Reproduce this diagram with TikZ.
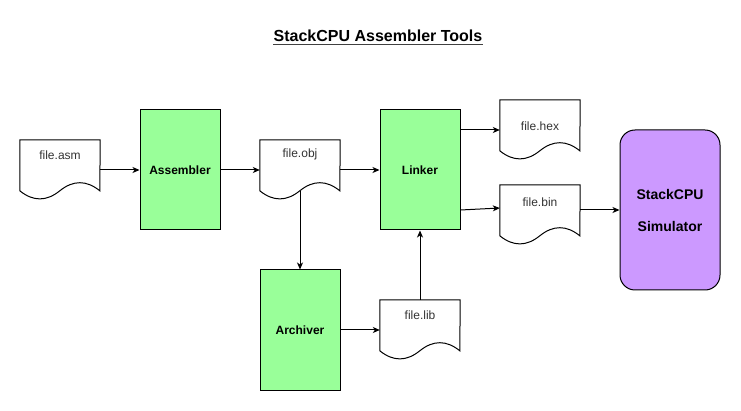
\documentclass[tikz,border=0pt]{standalone}
\usepackage{fontspec}
\setmainfont{Liberation Sans}
\usetikzlibrary{calc,arrows.meta}
\definecolor{toolgreen}{HTML}{99FF99}
\definecolor{simpurple}{HTML}{CC99FF}
\tikzset{
	tool/.style={draw=black, fill=toolgreen, line width=1pt, minimum width=80pt, minimum height=120pt, inner sep=0pt, font=\fontsize{12}{14.4}\selectfont\bfseries},
	simbox/.style={draw=black, fill=simpurple, line width=1pt, rounded corners=15pt, minimum width=100pt, minimum height=160pt, inner sep=0pt, align=center, font=\fontsize{14}{16.8}\selectfont\bfseries},
	filebox/.style={draw=none, minimum width=80pt, minimum height=60pt, inner sep=0pt},
	filetext/.style={inner sep=0pt, text=black!80, font=\fontsize{12}{14.4}\selectfont},
	fileline/.style={draw=black, fill=white, line width=1pt},
	flow/.style={draw=black, line width=1pt, -{Stealth[length=7pt,width=6pt,inset=2pt]}},
	titletext/.style={inner sep=0pt, anchor=base, font=\fontsize{16}{19.2}\selectfont\bfseries},
}
\def\filedoc(#1)(#2)(#3)#4{%
	\node[filebox] (#2) at (#1) {};
	\draw[fileline] (#2.north west) -- (#2.north east) -- ($(#2.north west)+(80,51)$)
		.. controls ($(#2.north west)+(66.67,40.2)$) and ($(#2.north west)+(53.33,40.2)$) .. ($(#2.north west)+(40,51)$)
		.. controls ($(#2.north west)+(26.67,61.8)$) and ($(#2.north west)+(13.33,61.8)$) .. ($(#2.north west)+(0,51)$) -- cycle;
	\node[filetext] (#2-name) at ($(#2.north)+(0,#3)$) {#4};
}

\begin{document}
\begin{tikzpicture}[x=1pt, y=-1pt]
	%%%%% START %%%%%
	
	\path[fill=white, use as bounding box] (0, 0) rectangle (741, 411);
	
	\node[titletext] (title) at (378, 42) {StackCPU Assembler Tools};
	\draw[line width=1.5pt, color=black!75] ($(title.base west)+(0, 2.3)$) -- ($(title.base east)+(0, 2.3)$);
	
	\filedoc(60, 170)(asm)(15){file.asm}
	\node[tool] (assembler) at (180, 170) {Assembler};
	\filedoc(300, 170)(obj)(15){file.obj}
	\node[tool] (linker) at (420, 170) {Linker};
	
	\node[tool] (archiver) at (300, 330) {Archiver};
	\filedoc(420, 330)(lib)(15){file.lib}
	
	\filedoc(540, 130)(hex)(26){file.hex}
	\filedoc(540, 215)(bin)(17){file.bin}
	\node[simbox] (sim) at (670, 210) {StackCPU\\[15.2pt]Simulator};
	
	\draw[flow] (asm) -- (assembler);
	\draw[flow] (assembler) -- (obj);
	\draw[flow] (obj) -- (linker);
	\draw[flow] ($(obj.south)+(0, -9)$) -- (archiver);
	\draw[flow] (archiver) -- (lib);
	\draw[flow] (lib) -- (linker);
	
	\draw[flow] (linker.east |- hex.west) -- (hex.west);
	\draw[flow] ($(linker.east)+(0, 40)$) -- ($(bin.west)+(0, -7)$);
	\draw[flow] (bin.east |- sim.west) -- (sim.west);
	
	%%%%% END %%%%%
\end{tikzpicture}
\end{document}
